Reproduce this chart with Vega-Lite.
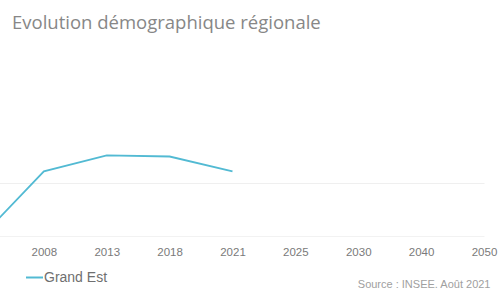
{
  "$schema": "https://vega.github.io/schema/vega-lite/v6.json",
  "width": 484,
  "height": 159,
  "padding": {"left": 0, "top": 13, "right": 0, "bottom": 0},
  "background": "white",
  "title": {
    "text": "Evolution démographique régionale",
    "anchor": "start",
    "dx": 12,
    "offset": 45,
    "font": "Open Sans",
    "fontSize": 18.5,
    "fontWeight": "normal",
    "color": "#878787"
  },
  "config": {
    "view": {"stroke": null},
    "font": "Liberation Sans"
  },
  "data": {
    "values": [
      {"annee": "2003", "pop": 5449, "region": "Grand Est"},
      {"annee": "2008", "pop": 5511, "region": "Grand Est"},
      {"annee": "2013", "pop": 5526, "region": "Grand Est"},
      {"annee": "2018", "pop": 5525, "region": "Grand Est"},
      {"annee": "2021", "pop": 5511, "region": "Grand Est"}
    ]
  },
  "mark": {"type": "line", "clip": true, "strokeWidth": 1.8},
  "encoding": {
    "x": {
      "field": "annee",
      "type": "ordinal",
      "scale": {
        "type": "point",
        "domain": ["2003", "2008", "2013", "2018", "2021", "2025", "2030", "2040", "2050"],
        "range": [-19, 484],
        "padding": 0
      },
      "axis": {
        "values": ["2008", "2013", "2018", "2021", "2025", "2030", "2040", "2050"],
        "labelAngle": 0,
        "ticks": false,
        "tickSize": 0,
        "domain": true,
        "domainColor": "#f2f2f2",
        "domainWidth": 1,
        "grid": false,
        "labelFont": "Liberation Sans",
        "labelFontSize": 11.5,
        "labelColor": "#7a7a7a",
        "labelPadding": 10,
        "title": "Source : INSEE. Août 2021",
        "titleFont": "Liberation Sans",
        "titleFontSize": 11,
        "titleFontWeight": "normal",
        "titleColor": "#a0a0a0",
        "titleAlign": "right",
        "titleAnchor": "end",
        "titleBaseline": "alphabetic",
        "titleX": 490,
        "titleY": 51
      }
    },
    "y": {
      "field": "pop",
      "type": "quantitative",
      "scale": {"domain": [5450, 5600], "zero": false, "nice": false},
      "axis": {
        "values": [5500],
        "labels": false,
        "ticks": false,
        "domain": false,
        "grid": true,
        "gridColor": "#efefef",
        "gridWidth": 1,
        "title": null
      }
    },
    "color": {
      "field": "region",
      "type": "nominal",
      "scale": {"domain": ["Grand Est"], "range": ["#52bad3"]},
      "legend": {
        "title": null,
        "orient": "none",
        "legendX": 25,
        "legendY": 191,
        "symbolType": "stroke",
        "symbolSize": 289,
        "symbolStrokeWidth": 2,
        "labelFont": "Liberation Sans",
        "labelFontSize": 14,
        "labelColor": "#6f6f6f",
        "labelOffset": 0,
        "padding": 0
      }
    }
  }
}
